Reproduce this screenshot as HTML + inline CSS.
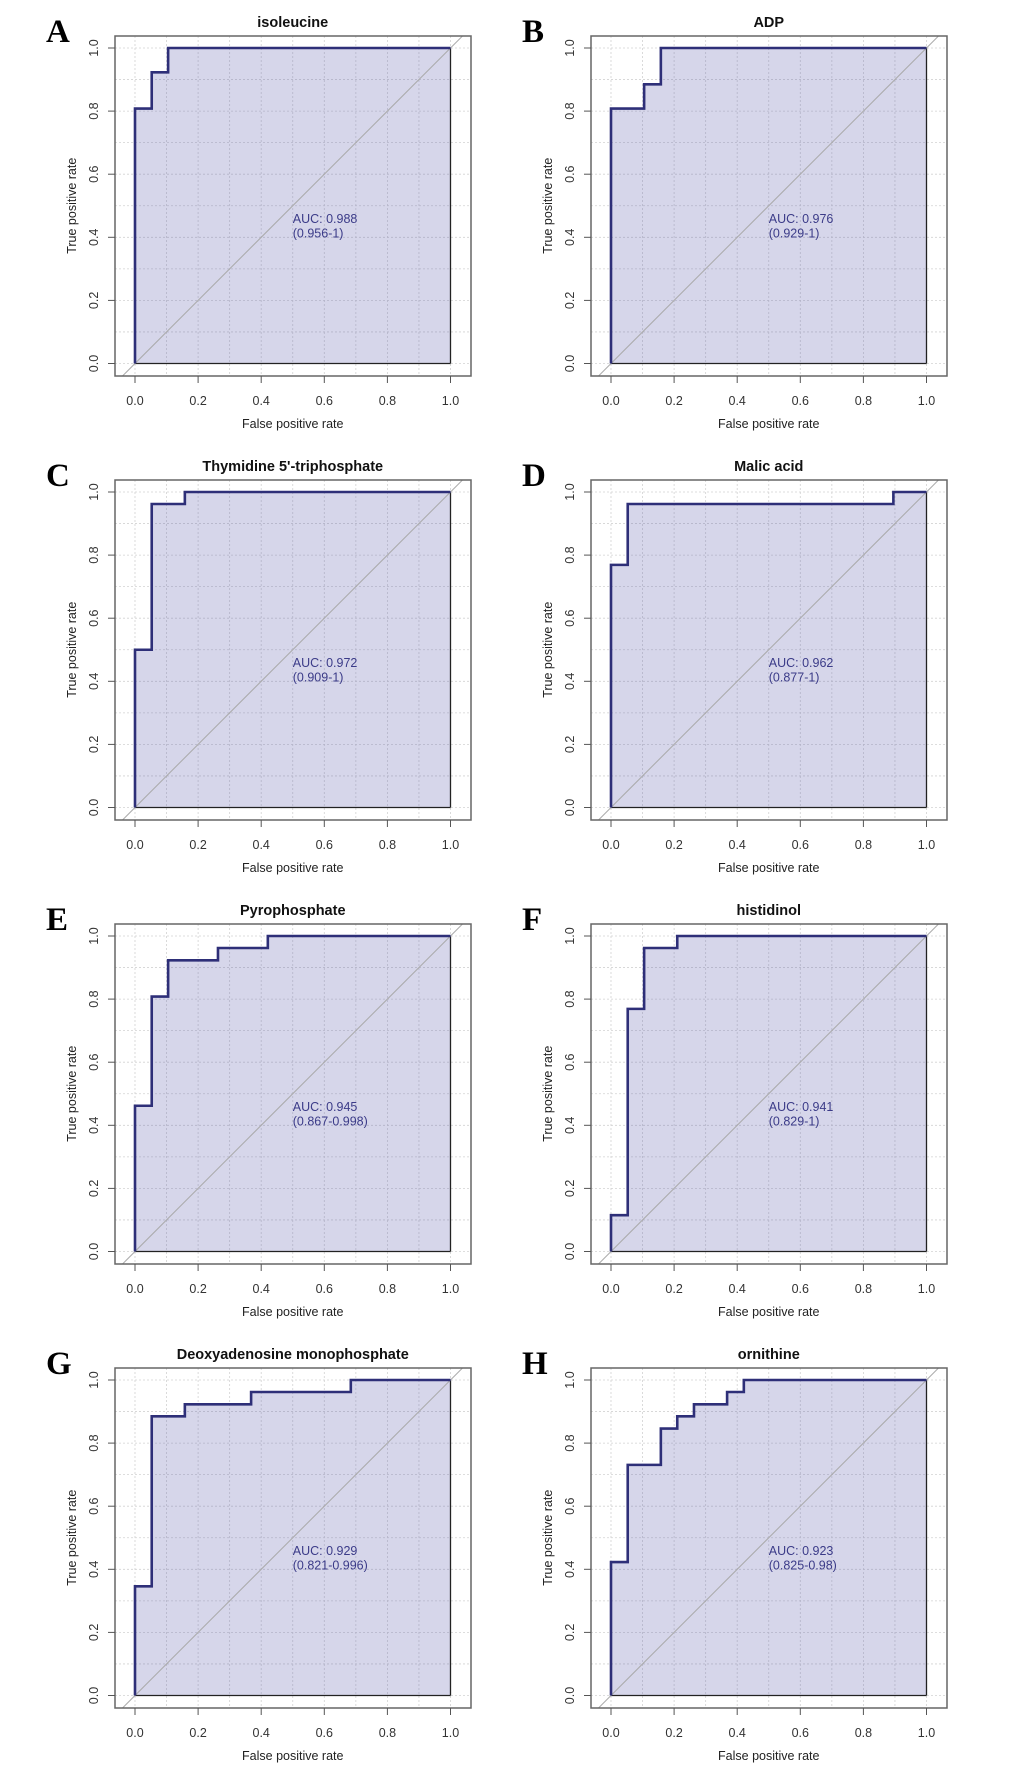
<!DOCTYPE html>
<html><head><meta charset="utf-8"><style>
html,body{margin:0;padding:0;background:#fff;}
svg{display:block;font-family:"Liberation Sans",Arial,sans-serif;}
</style></head><body>
<svg id="fig" width="1024" height="1776" viewBox="0 0 1024 1776"></svg>
<script>
const panelLetters=["A","B","C","D","E","F","G","H"];
const panelTitles=["isoleucine","ADP","Thymidine 5'-triphosphate","Malic acid","Pyrophosphate","histidinol","Deoxyadenosine monophosphate","ornithine"];
const aucValues=["0.988","0.976","0.972","0.962","0.945","0.941","0.929","0.923"];
const aucCIs=["(0.956-1)","(0.929-1)","(0.909-1)","(0.877-1)","(0.867-0.998)","(0.829-1)","(0.821-0.996)","(0.825-0.98)"];
const fprA=[0,0.053,0.105,1],tprA=[0.808,0.923,1,1];
const fprB=[0,0.105,0.158,1],tprB=[0.808,0.885,1,1];
const fprC=[0,0.053,0.158,1],tprC=[0.5,0.962,1,1];
const fprD=[0,0.053,0.895,1],tprD=[0.769,0.962,1,1];
const fprE=[0,0.053,0.105,0.263,0.421,1],tprE=[0.462,0.808,0.923,0.962,1,1];
const fprF=[0,0.053,0.105,0.21,1],tprF=[0.115,0.769,0.962,1,1];
const fprG=[0,0.053,0.158,0.368,0.684,1],tprG=[0.346,0.885,0.923,0.962,1,1];
const fprH=[0,0.053,0.158,0.21,0.263,0.368,0.421,1],tprH=[0.423,0.731,0.846,0.885,0.923,0.962,1,1];
const fprs=[fprA,fprB,fprC,fprD,fprE,fprF,fprG,fprH];
const tprs=[tprA,tprB,tprC,tprD,tprE,tprF,tprG,tprH];
const tickLabels=["0.0","0.2","0.4","0.6","0.8","1.0"];

const NS="http://www.w3.org/2000/svg";
const svg=document.getElementById('fig');
function mk(tag,attrs,parent){const e=document.createElementNS(NS,tag);for(const k in attrs)e.setAttribute(k,attrs[k]);(parent||svg).appendChild(e);return e;}
const S=315.5;
for(let p=0;p<8;p++){
  const col=p%2,row=Math.floor(p/2);
  const ox=135+col*476, oy=48+row*444;
  const X=v=>ox+v*S, Y=v=>oy+(1-v)*S;
  const g=mk('g',{});
  
  
  const bx=ox-20,by=oy-12,bw=356,bh=340;
  const cid='clip'+p;
  const cp=mk('clipPath',{id:cid},g);mk('rect',{x:bx,y:by,width:bw,height:bh},cp);
  const grid=mk('g',{stroke:'#d2d2d2','stroke-width':0.8,'stroke-dasharray':'2,2','clip-path':'url(#'+cid+')'},g);
  
  for(let i=0;i<=10;i++){const v=i/10;
    mk('line',{x1:X(v),x2:X(v),y1:by,y2:by+bh},grid);
    mk('line',{x1:bx,x2:bx+bw,y1:Y(v),y2:Y(v)},grid);}
  const f=fprs[p],t=tprs[p];
  let d='M'+X(0)+','+Y(0);
  let cur=0;
  for(let i=0;i<f.length;i++){d+=' L'+X(f[i])+','+Y(cur);d+=' L'+X(f[i])+','+Y(t[i]);cur=t[i];}
  d+=' L'+X(1)+','+Y(1);
  const area=mk('path',{d:d+' L'+X(1)+','+Y(0)+' Z',fill:'rgba(90,90,170,0.25)',stroke:'none'},g);
  
  mk('line',{x1:X(1),y1:Y(1),x2:X(1),y2:Y(0),stroke:'#222','stroke-width':1.3},g);
  mk('line',{x1:X(0),y1:Y(0),x2:X(1),y2:Y(0),stroke:'#222','stroke-width':1.3},g);
  const diag=mk('line',{x1:X(-0.1),y1:Y(-0.1),x2:X(1.1),y2:Y(1.1),stroke:'#aaaaaa','stroke-width':1,'clip-path':'url(#'+cid+')'},g);
  
  const curve=mk('path',{d:d,fill:'none',stroke:'#2e2f78','stroke-width':2.6},g);
  
  const box=mk('rect',{x:bx,y:by,width:bw,height:bh,fill:'none',stroke:'#666','stroke-width':1.5},g);
  
  for(let i=0;i<6;i++){const v=i/5;
    mk('line',{x1:X(v),x2:X(v),y1:by+bh,y2:by+bh+7,stroke:'#555','stroke-width':1},g);
    const tx=mk('text',{x:X(v),y:oy+357,'font-size':12.5,fill:'#333','text-anchor':'middle'},g);tx.textContent=tickLabels[i];
    
    mk('line',{x1:bx,x2:bx-7,y1:Y(v),y2:Y(v),stroke:'#555','stroke-width':1},g);
    const ty=mk('text',{x:0,y:0,'font-size':12.5,fill:'#333','text-anchor':'middle',transform:'translate('+(bx-17)+','+Y(v)+') rotate(-90)'},g);ty.textContent=tickLabels[i];
    
  }
  const xt=mk('text',{x:X(0.5),y:oy+380,'font-size':12.5,fill:'#222','text-anchor':'middle'},g);xt.textContent='False positive rate';
  
  const yt=mk('text',{x:0,y:0,'font-size':12.5,fill:'#222','text-anchor':'middle',transform:'translate('+(bx-39)+','+Y(0.5)+') rotate(-90)'},g);yt.textContent='True positive rate';
  
  const ti=mk('text',{x:X(0.5),y:oy-21,'font-size':14.5,'font-weight':'bold',fill:'#111','text-anchor':'middle'},g);ti.textContent=panelTitles[p];
  
  const lt=mk('text',{x:ox-89,y:oy-6,'font-size':33,'font-weight':'bold','font-family':'"Liberation Serif",serif',fill:'#000'},g);lt.textContent=panelLetters[p];
  
  const a1=mk('text',{x:X(0.5),y:Y(0.445),'font-size':12.5,fill:'#3b3b88'},g);a1.textContent='AUC: '+aucValues[p];
  
  const a2=mk('text',{x:X(0.5),y:Y(0.4),'font-size':12.5,fill:'#3b3b88'},g);a2.textContent=aucCIs[p];
  
}
</script>
</body></html>
